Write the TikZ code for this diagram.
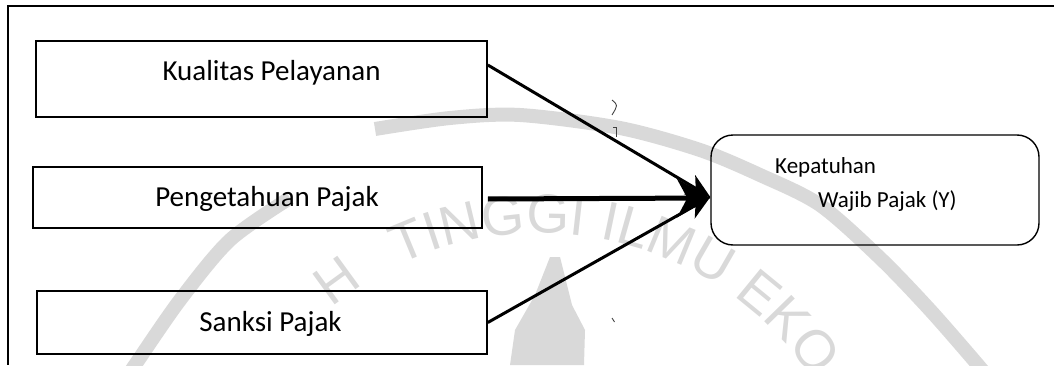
\documentclass[tikz,border=0pt]{standalone}
\usepackage{fontspec}
\setmainfont{Carlito}
\newfontfamily\wmfont{Liberation Sans}
\usetikzlibrary{arrows.meta,decorations.text}
\definecolor{wmgray}{gray}{0.85}
\definecolor{inkgray}{gray}{0.25}
\begin{document}
\begin{tikzpicture}[x=1pt,y=1pt,
  varbox/.style={draw=black, line width=1.6pt, inner sep=0pt},
  lbl/.style={font=\fontsize{29}{34}\selectfont, inner sep=0pt, anchor=base},
  ylbl/.style={font=\fontsize{23}{27}\selectfont, inner sep=0pt, anchor=base west},
  thinarrow/.style={line width=3pt, -{Stealth[length=24pt,width=22pt,inset=7pt]}},
  thickarrow/.style={line width=5pt, -{Stealth[length=33pt,width=38pt,inset=10pt]}},
  wmband/.style={wmgray, line width=14pt},
  wmtext/.style={decorate, decoration={text along path, text align=center,
    text={|\wmfont\fontsize{55}{55}\selectfont\color{wmgray}|#1}}}
]
\useasboundingbox (0,0) rectangle (1054,365);

% faint background seal
\draw[wmband] plot[smooth] coordinates {(375,236) (450,247) (520,250) (620,237) (700,215) (760,190) (820,160) (880,107) (930,55) (978,0) (990,-15)};
\draw[wmband] plot[smooth] coordinates {(125,-15) (135,0) (180,65) (230,125) (290,167)};
\fill[wmgray] (550,108) -- (560,108) -- (572,60) -- (585,35) -- (584,0) -- (510,0) -- (515,35) -- (535,70) -- cycle;
\path[wmtext={H}] (540,-195) ++(140:327) arc[start angle=140, end angle=112, radius=327];
\path[wmtext={TINGGI ILMU EKO}] (540,-195) ++(152:327) arc[start angle=152, end angle=-3, radius=327];

% outer frame (top and left edges)
\coordinate (frTL) at (8,359);
\coordinate (frTR) at (1054,359);
\coordinate (frBL) at (8,0);
\draw[line width=1.6pt] (frTR) -- (frTL) -- (frBL);

% independent variables
\node[varbox, minimum width=451pt, minimum height=76pt] (kp) at (261.5,286) {};
\node[lbl] (kpt) at (271.5,285) {Kualitas Pelayanan};
\node[varbox, minimum width=449pt, minimum height=61pt] (pp) at (257.5,167.5) {};
\node[lbl] (ppt) at (267,159) {Pengetahuan Pajak};
\node[varbox, minimum width=450pt, minimum height=63pt] (sp) at (262,42.5) {};
\node[lbl] (spt) at (270.5,34) {Sanksi Pajak};

% dependent variable
\node[draw=black, line width=1.4pt, rounded corners=22pt, minimum width=328pt, minimum height=110pt] (kwp) at (875,175) {};
\node[ylbl] (kwp1) at (775,192) {Kepatuhan};
\node[ylbl] (kwp2) at (818,158) {Wajib Pajak (Y)};

% influence arrows
\draw[thinarrow] ([yshift=14pt]kp.east) -- ([yshift=-7pt]kwp.west);
\draw[thickarrow] ([xshift=5pt,yshift=-1.5pt]pp.east) -- ([yshift=-8pt]kwp.west);
\draw[thinarrow] (sp.east) -- ([yshift=-7pt]kwp.west);

% small stray marks
\draw[inkgray, line width=0.9pt] (612,265) .. controls (618,260) .. (612,250);
\draw[inkgray, line width=0.9pt] (613,238) -- (616.5,238) -- (616.5,228);
\draw[inkgray, line width=0.9pt] (612,47) -- (614.5,43);
\end{tikzpicture}
\end{document}
